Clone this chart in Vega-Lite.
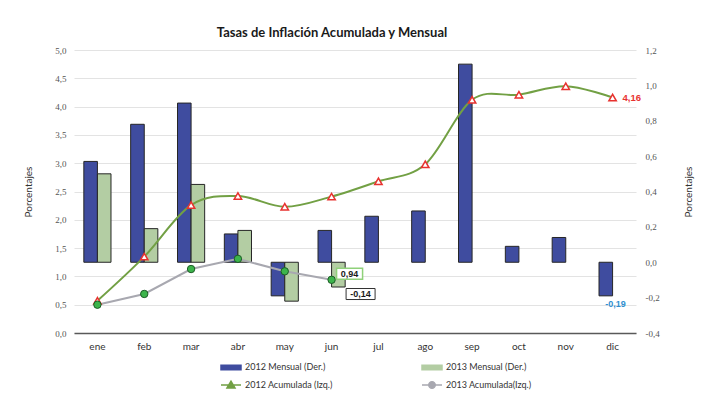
{
  "$schema": "https://vega.github.io/schema/vega-lite/v6.json",
  "width": 562,
  "height": 283,
  "autosize": {"type": "none"},
  "padding": {"left": 74, "top": 50, "right": 68, "bottom": 72},
  "background": "white",
  "title": {"text": "Tasas de Inflación Acumulada y Mensual", "font": "Lato", "fontSize": 13, "fontWeight": "bold", "color": "#1a1a1a", "anchor": "middle", "dx": -23, "offset": 6},
  "config": {"view": {"stroke": null}, "font": "Lato"},
  "datasets": {
    "mensual": [
      {"mes": "ene", "serie": "2012 Mensual (Der.)", "valor": 0.57},
      {"mes": "feb", "serie": "2012 Mensual (Der.)", "valor": 0.78},
      {"mes": "mar", "serie": "2012 Mensual (Der.)", "valor": 0.90},
      {"mes": "abr", "serie": "2012 Mensual (Der.)", "valor": 0.16},
      {"mes": "may", "serie": "2012 Mensual (Der.)", "valor": -0.19},
      {"mes": "jun", "serie": "2012 Mensual (Der.)", "valor": 0.18},
      {"mes": "jul", "serie": "2012 Mensual (Der.)", "valor": 0.26},
      {"mes": "ago", "serie": "2012 Mensual (Der.)", "valor": 0.29},
      {"mes": "sep", "serie": "2012 Mensual (Der.)", "valor": 1.12},
      {"mes": "oct", "serie": "2012 Mensual (Der.)", "valor": 0.09},
      {"mes": "nov", "serie": "2012 Mensual (Der.)", "valor": 0.14},
      {"mes": "dic", "serie": "2012 Mensual (Der.)", "valor": -0.19},
      {"mes": "ene", "serie": "2013 Mensual (Der.)", "valor": 0.50},
      {"mes": "feb", "serie": "2013 Mensual (Der.)", "valor": 0.19},
      {"mes": "mar", "serie": "2013 Mensual (Der.)", "valor": 0.44},
      {"mes": "abr", "serie": "2013 Mensual (Der.)", "valor": 0.18},
      {"mes": "may", "serie": "2013 Mensual (Der.)", "valor": -0.22},
      {"mes": "jun", "serie": "2013 Mensual (Der.)", "valor": -0.14}
    ],
    "acum": [
      {"mes": "ene", "serie": "2012 Acumulada (Izq.)", "valor": 0.57},
      {"mes": "feb", "serie": "2012 Acumulada (Izq.)", "valor": 1.35},
      {"mes": "mar", "serie": "2012 Acumulada (Izq.)", "valor": 2.26},
      {"mes": "abr", "serie": "2012 Acumulada (Izq.)", "valor": 2.42},
      {"mes": "may", "serie": "2012 Acumulada (Izq.)", "valor": 2.23},
      {"mes": "jun", "serie": "2012 Acumulada (Izq.)", "valor": 2.41},
      {"mes": "jul", "serie": "2012 Acumulada (Izq.)", "valor": 2.68},
      {"mes": "ago", "serie": "2012 Acumulada (Izq.)", "valor": 2.98},
      {"mes": "sep", "serie": "2012 Acumulada (Izq.)", "valor": 4.12},
      {"mes": "oct", "serie": "2012 Acumulada (Izq.)", "valor": 4.21},
      {"mes": "nov", "serie": "2012 Acumulada (Izq.)", "valor": 4.36},
      {"mes": "dic", "serie": "2012 Acumulada (Izq.)", "valor": 4.16},
      {"mes": "ene", "serie": "2013 Acumulada(Izq.)", "valor": 0.50},
      {"mes": "feb", "serie": "2013 Acumulada(Izq.)", "valor": 0.69},
      {"mes": "mar", "serie": "2013 Acumulada(Izq.)", "valor": 1.13},
      {"mes": "abr", "serie": "2013 Acumulada(Izq.)", "valor": 1.31},
      {"mes": "may", "serie": "2013 Acumulada(Izq.)", "valor": 1.09},
      {"mes": "jun", "serie": "2013 Acumulada(Izq.)", "valor": 0.94}
    ],
    "etiq_der": [
      {"mes": "dic", "valor": -0.19, "texto": "-0,19"},
      {"mes": "jun", "valor": -0.14, "texto": "-0,14"}
    ],
    "etiq_izq": [
      {"mes": "dic", "valor": 4.16, "texto": "4,16"},
      {"mes": "jun", "valor": 0.94, "texto": "0,94"}
    ]
  },
  "layer": [
    {
      "encoding": {
        "x": {"field": "mes", "type": "nominal", "title": null,
          "scale": {"domain": ["ene","feb","mar","abr","may","jun","jul","ago","sep","oct","nov","dic"], "paddingInner": 0.42, "paddingOuter": 0.21},
          "axis": {"labelAngle": 0, "ticks": false, "domainColor": "#595959", "domainWidth": 1.5, "labelPadding": 8, "labelFont": "Lato", "labelFontSize": 10, "labelColor": "#333", "grid": false}},
        "y": {"field": "valor", "type": "quantitative",
          "scale": {"domain": [-0.4, 1.2], "nice": false},
          "axis": {"orient": "right", "values": [-0.4,-0.2,0,0.2,0.4,0.6,0.8,1.0,1.2],
            "labelExpr": "replace(replace(format(datum.value, '.1f'), '.', ','), '−', '-')",
            "grid": false, "domain": false, "ticks": false, "labelPadding": 9,
            "labelFont": "Liberation Serif", "labelFontSize": 9, "labelColor": "#555",
            "title": "Porcentajes", "titleFont": "Lato", "titleFontSize": 10, "titleFontWeight": "normal", "titleColor": "#333",
            "titleAngle": 270, "titleX": 52, "titleY": 141.5, "titleAlign": "center", "titleBaseline": "middle"}}
      },
      "layer": [
        {
          "data": {"name": "mensual"},
          "mark": {"type": "bar", "stroke": "#262626", "strokeWidth": 1},
          "encoding": {
            "xOffset": {"field": "serie", "type": "nominal", "scale": {"domain": ["2012 Mensual (Der.)", "2013 Mensual (Der.)"]}},
            "color": {"field": "serie", "type": "nominal",
              "scale": {"domain": ["2012 Mensual (Der.)", "2013 Mensual (Der.)", "2012 Acumulada (Izq.)", "2013 Acumulada(Izq.)"],
                        "range": ["#3f4c9f", "#b3cda3", "#72a044", "#a8a8b0"]},
              "legend": {"orient": "none", "legendX": 151, "legendY": 311, "title": null, "columns": 2, "direction": "horizontal",
                "symbolSize": 100, "symbolOpacity": 1, "symbolStrokeWidth": 1.5, "labelFont": "Lato", "labelFontSize": 9, "labelColor": "#333", "labelOffset": 8,
                "columnPadding": 86, "rowPadding": 5}
            }
          }
        },
        {
          "data": {"name": "etiq_der"},
          "transform": [{"filter": "datum.mes === 'jun'"}],
          "mark": {"type": "point", "shape": "M-1,-0.38H1V0.38H-1Z", "size": 841, "filled": true, "fill": "white", "stroke": "#333", "strokeWidth": 1, "opacity": 1, "xOffset": 29, "yOffset": 7}
        },
        {
          "data": {"name": "etiq_der"},
          "transform": [{"filter": "datum.mes === 'jun'"}],
          "mark": {"type": "text", "font": "Liberation Sans", "fontSize": 9, "fontWeight": "bold", "color": "#1a1a1a", "dx": 29, "dy": 7, "align": "center", "baseline": "middle"},
          "encoding": {"text": {"field": "texto"}}
        },
        {
          "data": {"name": "etiq_der"},
          "transform": [{"filter": "datum.mes === 'dic'"}],
          "mark": {"type": "text", "font": "Liberation Sans", "fontSize": 9, "fontWeight": "bold", "color": "#2f8fd0", "dx": 3, "dy": 8, "align": "center", "baseline": "middle"},
          "encoding": {"text": {"field": "texto"}}
        }
      ]
    },
    {
      "encoding": {
        "x": {"field": "mes", "type": "nominal", "title": null,
          "scale": {"domain": ["ene","feb","mar","abr","may","jun","jul","ago","sep","oct","nov","dic"]}},
        "y": {"field": "valor", "type": "quantitative",
          "scale": {"domain": [0, 5], "nice": false},
          "axis": {"orient": "left", "values": [0,0.5,1,1.5,2,2.5,3,3.5,4,4.5,5],
            "labelExpr": "replace(replace(format(datum.value, '.1f'), '.', ','), '−', '-')",
            "grid": true, "gridColor": "#e3e3e3", "gridWidth": 1, "domain": false, "ticks": false, "labelPadding": 8,
            "labelFont": "Liberation Serif", "labelFontSize": 9, "labelColor": "#555",
            "title": "Porcentajes", "titleFont": "Lato", "titleFontSize": 10, "titleFontWeight": "normal", "titleColor": "#333",
            "titleAngle": 270, "titleX": -46, "titleY": 141.5, "titleAlign": "center", "titleBaseline": "middle"}}
      },
      "layer": [
        {
          "data": {"name": "acum"},
          "mark": {"type": "point", "opacity": 0, "size": 1},
          "encoding": {
            "shape": {"field": "serie", "type": "nominal",
              "scale": {"domain": ["2012 Mensual (Der.)", "2013 Mensual (Der.)", "2012 Acumulada (Izq.)", "2013 Acumulada(Izq.)"],
                        "range": ["M-2,-0.45H2V0.45H-2Z", "M-2,-0.45H2V0.45H-2Z", "M-2,0H2M-0.8,0.6L0,-0.75L0.8,0.6Z", "M-2,0H2M-0.65,0A0.65,0.65 0 1,0 0.65,0A0.65,0.65 0 1,0 -0.65,0Z"]},
              "legend": {"orient": "none", "legendX": 151, "legendY": 311, "title": null, "columns": 2, "direction": "horizontal",
                "symbolSize": 100, "symbolOpacity": 1, "symbolStrokeWidth": 1.5, "labelFont": "Lato", "labelFontSize": 9, "labelColor": "#333", "labelOffset": 8,
                "columnPadding": 86, "rowPadding": 5}
            }
          }
        },
        {
          "data": {"name": "acum"},
          "transform": [{"filter": "datum.serie === '2012 Acumulada (Izq.)'"}],
          "mark": {"type": "line", "interpolate": "cardinal", "strokeWidth": 2},
          "encoding": {"color": {"field": "serie", "type": "nominal"}}
        },
        {
          "data": {"name": "acum"},
          "transform": [{"filter": "datum.serie === '2013 Acumulada(Izq.)'"}],
          "mark": {"type": "line", "interpolate": "linear", "strokeWidth": 2},
          "encoding": {"color": {"field": "serie", "type": "nominal"}}
        },
        {
          "data": {"name": "acum"},
          "transform": [{"filter": "datum.serie === '2012 Acumulada (Izq.)'"}],
          "mark": {"type": "point", "shape": "triangle-up", "size": 55, "filled": true, "fill": "white", "stroke": "#e8322f", "strokeWidth": 1.5, "opacity": 1}
        },
        {
          "data": {"name": "acum"},
          "transform": [{"filter": "datum.serie === '2013 Acumulada(Izq.)'"}],
          "mark": {"type": "point", "shape": "circle", "size": 55, "filled": true, "fill": "#3cb44b", "stroke": "#1d5c26", "strokeWidth": 1, "opacity": 1}
        },
        {
          "data": {"name": "etiq_izq"},
          "transform": [{"filter": "datum.mes === 'jun'"}],
          "mark": {"type": "point", "shape": "M-1,-0.42H1V0.42H-1Z", "size": 676, "filled": true, "fill": "white", "stroke": "#8fd17a", "strokeWidth": 1.5, "opacity": 1, "xOffset": 18, "yOffset": -6}
        },
        {
          "data": {"name": "etiq_izq"},
          "transform": [{"filter": "datum.mes === 'jun'"}],
          "mark": {"type": "text", "font": "Liberation Sans", "fontSize": 9, "fontWeight": "bold", "color": "#1a1a1a", "dx": 18, "dy": -6, "align": "center", "baseline": "middle"},
          "encoding": {"text": {"field": "texto"}}
        },
        {
          "data": {"name": "etiq_izq"},
          "transform": [{"filter": "datum.mes === 'dic'"}],
          "mark": {"type": "text", "font": "Liberation Sans", "fontSize": 9.5, "fontWeight": "bold", "color": "#e8322f", "dx": 10, "dy": 0, "align": "left", "baseline": "middle"},
          "encoding": {"text": {"field": "texto"}}
        }
      ]
    }
  ],
  "resolve": {"scale": {"y": "independent"}}
}
